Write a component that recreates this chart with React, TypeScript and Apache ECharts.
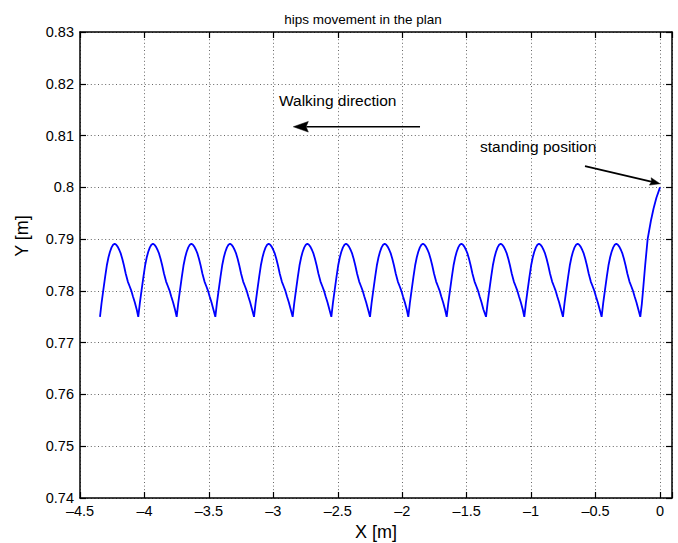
import React, { useEffect, useRef } from "react";
import * as echarts from "echarts";

// Low points of each step (hip at its lowest), x in metres, walking from 0 towards negative x
const stepLowX = [
  -4.345, -4.048, -3.75, -3.45, -3.15, -2.85, -2.55, -2.25, -1.953, -1.655, -1.35, -1.053, -0.753,
  -0.453, -0.153,
];

// Hip trajectory over one step, measured from the step's low point
const stepShapeDx = [
  0, 0.012, 0.025, 0.04, 0.053, 0.066, 0.077, 0.09, 0.102, 0.114, 0.126, 0.138, 0.15, 0.16, 0.173,
  0.186, 0.2, 0.216, 0.23, 0.242, 0.256, 0.27, 0.285,
];
const stepShapeY = [
  0.775, 0.7776, 0.78, 0.7827, 0.7849, 0.7865, 0.7875, 0.7884, 0.7889, 0.7891, 0.7889, 0.7885,
  0.7879, 0.7873, 0.7862, 0.7849, 0.7833, 0.7818, 0.7809, 0.7801, 0.7789, 0.7778, 0.7764,
];

// Rise from the last step up to the standing position
const standUpX = [-0.153, -0.141, -0.132, -0.115, -0.096, -0.071, -0.05, -0.028, 0];
const standUpY = [0.775, 0.7775, 0.78, 0.785, 0.79, 0.7935, 0.7959, 0.798, 0.8];

// Axis ranges
const xRange = [-4.5, 0.093];
const xStep = 0.5;
const yRange = [0.74, 0.83];
const yStep = 0.01;

// Annotation arrows: [fromX, fromY, toX, toY]
const walkArrow = [-1.862, 0.8117, -2.845, 0.8117];
const standArrow = [-0.582, 0.8041, 0, 0.8007];

const FONT = '"Liberation Sans", Arial, Helvetica, sans-serif';

function buildPath(): [number, number][] {
  const pts: [number, number][] = [];
  for (let i = 0; i < stepLowX.length - 1; i++) {
    stepShapeDx.forEach((dx, k) => {
      pts.push([+(stepLowX[i] + dx).toFixed(4), stepShapeY[k]]);
    });
  }
  standUpX.forEach((x, k) => pts.push([x, standUpY[k]]));
  return pts;
}

function fmtX(v: number): string {
  const r = v / xStep;
  if (Math.abs(r - Math.round(r)) > 1e-6) return "";
  if (Math.abs(v) < 1e-9) return "0";
  return v < 0 ? "\u2013" + String(+Math.abs(v).toFixed(2)) : String(+v.toFixed(2));
}

function fmtY(v: number): string {
  return String(+v.toFixed(2));
}

function frameAxis(position: string, isX: boolean, showLabels: boolean) {
  const range = isX ? xRange : yRange;
  return {
    type: "value",
    position,
    min: range[0],
    max: range[1],
    interval: isX ? xStep : yStep,
    axisLine: { show: true, onZero: false, lineStyle: { color: "#000", width: 1.5 } },
    axisTick: { show: true, inside: true, length: 6, lineStyle: { color: "#000", width: 1.2 } },
    axisLabel: {
      show: showLabels,
      margin: isX ? 5 : 6,
      fontSize: 14.5,
      fontFamily: FONT,
      color: "#000",
      formatter: isX ? fmtX : fmtY,
    },
    splitLine: {
      show: showLabels,
      lineStyle: { color: "#666", width: 1, type: [1, 2.6] },
    },
  };
}

function arrow(chart: echarts.ECharts, a: number[], headLen: number, headHalf: number) {
  const p0 = chart.convertToPixel({ seriesIndex: 0 }, [a[0], a[1]]) as number[];
  const p1 = chart.convertToPixel({ seriesIndex: 0 }, [a[2], a[3]]) as number[];
  const dx = p1[0] - p0[0];
  const dy = p1[1] - p0[1];
  const len = Math.hypot(dx, dy);
  const ux = dx / len;
  const uy = dy / len;
  const bx = p1[0] - ux * headLen;
  const by = p1[1] - uy * headLen;
  const nx = -uy;
  const ny = ux;
  return [
    {
      type: "line",
      shape: { x1: p0[0], y1: p0[1], x2: bx + ux * 2, y2: by + uy * 2 },
      style: { stroke: "#000", lineWidth: 1.6 },
      silent: true,
    },
    {
      type: "polygon",
      shape: {
        points: [
          [p1[0], p1[1]],
          [bx + nx * headHalf, by + ny * headHalf],
          [bx + ux * headLen * 0.15, by + uy * headLen * 0.15],
          [bx - nx * headHalf, by - ny * headHalf],
        ],
      },
      style: { fill: "#000", stroke: "#000", lineWidth: 0.5 },
      silent: true,
    },
  ];
}

function label(text: string, x: number, y: number, size: number, align: string, rotation = 0) {
  return {
    type: "text",
    x,
    y,
    rotation,
    silent: true,
    style: {
      text,
      fill: "#000",
      fontSize: size,
      fontFamily: FONT,
      align,
      textAlign: align,
      verticalAlign: "middle",
      textVerticalAlign: "middle",
    },
  };
}

export default function App() {
  const ref = useRef<HTMLDivElement>(null);

  useEffect(() => {
    if (!ref.current) return;
    const chart = echarts.init(ref.current, undefined, { renderer: "svg" });
    chart.setOption({
      animation: false,
      backgroundColor: "#fff",
      grid: { left: 80, right: 6, top: 32, bottom: 45 },
      xAxis: [frameAxis("bottom", true, true), frameAxis("top", true, false)],
      yAxis: [frameAxis("left", false, true), frameAxis("right", false, false)],
      series: [
        {
          type: "line",
          xAxisIndex: 0,
          yAxisIndex: 0,
          data: buildPath(),
          showSymbol: false,
          symbol: "none",
          silent: true,
          lineStyle: { color: "#0000ff", width: 1.8 },
        },
      ],
    });

    chart.setOption({
      graphic: [
        label("hips movement in the plan", 363, 19.3, 13.5, "center"),
        label("Walking direction", 279, 100.6, 15.5, "left"),
        label("standing position", 480, 146.3, 15.5, "left"),
        label("X [m]", 376, 531.5, 18, "center"),
        label("Y [m]", 22, 236, 18, "center", Math.PI / 2),
        ...arrow(chart, walkArrow, 15, 5.3),
        ...arrow(chart, standArrow, 10, 3.8),
      ],
    });

    return () => chart.dispose();
  }, []);

  return (
    <div
      ref={ref}
      style={{ position: "fixed", left: 0, top: 0, width: 678, height: 543, background: "#fff" }}
    />
  );
}
